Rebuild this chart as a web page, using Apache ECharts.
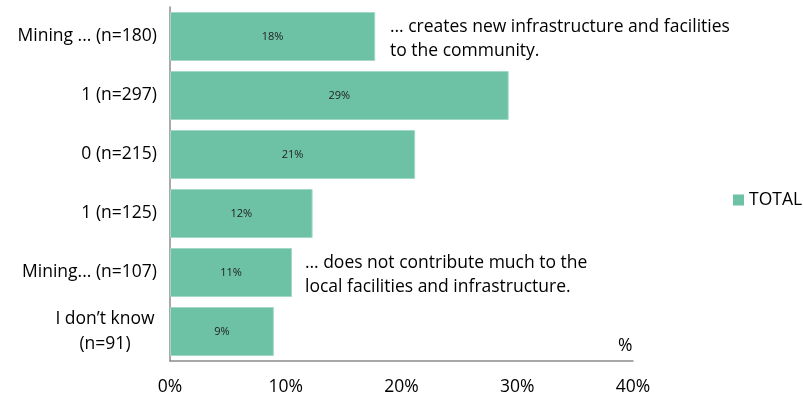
<!DOCTYPE html>
<html>
<head>
<meta charset="utf-8">
<script src="https://cdn.jsdelivr.net/npm/echarts@6/dist/echarts.min.js"></script>
<style>
  html, body { margin: 0; padding: 0; background: #fff; }
  #chart { width: 803px; height: 399px; }
</style>
</head>
<body>
<div id="chart"></div>
<script>
// Response categories, top to bottom, with respondent counts
const categories = [
  'Mining ... (n=180)',
  '1 (n=297)',
  '0 (n=215)',
  '1 (n=125)',
  'Mining... (n=107)',
  'I don\u2019t know\n(n=91)'
];
// Share of respondents in each category, percent
const totalValues = [17.73, 29.26, 21.18, 12.32, 10.54, 8.97];
const xTicks = [0, 10, 20, 30, 40];
const seriesName = 'TOTAL';

const FONT = '"Open Sans", "Noto Sans", sans-serif';
const FS = 17.5;
const GREEN = '#6dc1a4';

const chart = echarts.init(document.getElementById('chart'));

chart.setOption({
  animation: false,
  backgroundColor: '#ffffff',
  grid: { left: 170, right: 170, top: 7, bottom: 38, containLabel: false },
  legend: {
    data: [seriesName],
    left: 733,
    top: 191,
    orient: 'vertical',
    icon: 'rect',
    itemWidth: 11,
    itemHeight: 11,
    itemGap: 4,
    padding: 0,
    itemStyle: { borderWidth: 0 },
    textStyle: { fontFamily: FONT, fontSize: FS, color: '#000' }
  },
  xAxis: {
    type: 'value',
    min: xTicks[0],
    max: xTicks[xTicks.length - 1],
    interval: 10,
    axisLine: { show: true, lineStyle: { color: '#8c8c8c', width: 1.5 } },
    axisTick: { show: false },
    splitLine: { show: false },
    axisLabel: {
      margin: 17,
      fontFamily: FONT,
      fontSize: FS,
      color: '#000',
      formatter: v => v + '%'
    }
  },
  yAxis: {
    type: 'category',
    inverse: true,
    data: categories,
    axisLine: { show: true, lineStyle: { color: '#8c8c8c', width: 1.5 } },
    axisTick: { show: false },
    axisLabel: {
      margin: 13,
      fontFamily: FONT,
      fontSize: FS,
      color: '#000',
      lineHeight: 25,
      formatter: function (v) {
        if (v.indexOf('\n') >= 0) {
          return v.split('\n').map(s => '{c|' + s + '}').join('\n');
        }
        return v;
      },
      rich: {
        c: { width: 104, align: 'center', fontFamily: FONT, fontSize: FS, color: '#000', lineHeight: 25 }
      }
    }
  },
  series: [{
    name: seriesName,
    type: 'bar',
    data: totalValues,
    barCategoryGap: '17%',
    itemStyle: { color: GREEN, borderColor: '#a3d8c5', borderWidth: 1 },
    label: {
      show: true,
      position: 'inside',
      fontFamily: FONT,
      fontSize: 11,
      color: '#222',
      formatter: p => Math.round(p.value) + '%'
    }
  }],
  graphic: [
    {
      type: 'text', left: 390, top: 15,
      style: {
        text: '\u2026 creates new infrastructure and facilities\nto the community.',
        fontFamily: FONT, fontSize: FS, lineHeight: 24, fill: '#000'
      }
    },
    {
      type: 'text', left: 305, top: 251,
      style: {
        text: '\u2026 does not contribute much to the\nlocal facilities and infrastructure.',
        fontFamily: FONT, fontSize: FS, lineHeight: 24, fill: '#000'
      }
    },
    {
      type: 'text', left: 618, top: 337,
      style: { text: '%', fontFamily: FONT, fontSize: FS, fill: '#000' }
    }
  ]
});
</script>
</body>
</html>
